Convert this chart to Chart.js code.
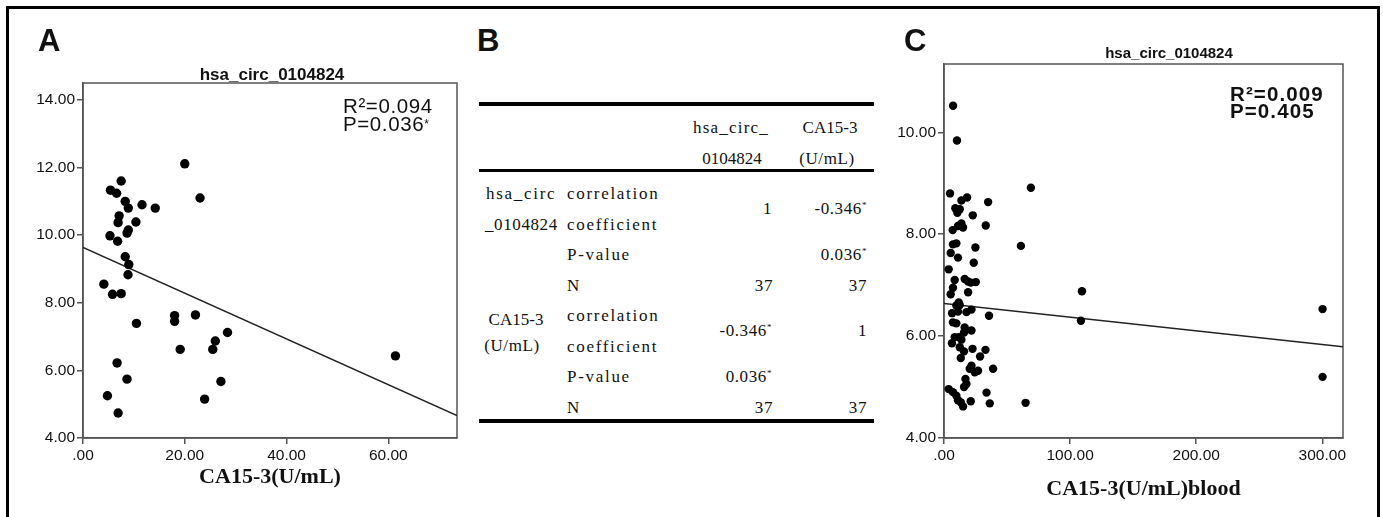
<!DOCTYPE html>
<html>
<head>
<meta charset="utf-8">
<script src="https://cdn.jsdelivr.net/npm/chart.js@4.4.1/dist/chart.umd.min.js"></script>
<style>
html, body { margin: 0; padding: 0; background: #fff; }
body { width: 1383px; height: 517px; position: relative; overflow: hidden; font-family: "Liberation Sans", Arial, sans-serif; }
#frame { position: absolute; left: 6px; top: 6px; width: 1368px; height: 620px; border: 3px solid #000; }
.wrap { position: absolute; top: 0; height: 517px; }
#wrapA { left: 0; width: 475px; }
#wrapC { left: 880px; width: 503px; }
.t { position: absolute; white-space: nowrap; line-height: 1; color: #111; }
.rule { position: absolute; left: 479px; width: 395px; background: #000; }
.star { font-size: 9px; position: relative; top: -0.75em; }
</style>
</head>
<body>
<div id="frame"></div>
<div class="wrap" id="wrapA"><canvas id="chartA"></canvas></div>
<div class="wrap" id="wrapC"><canvas id="chartC"></canvas></div>
<div class="rule" style="top:102px;height:4px"></div>
<div class="rule" style="top:169px;height:3px"></div>
<div class="rule" style="top:419px;height:4px"></div>

<script>
// =========================
// DATA
// =========================

// panel A : CA15-3 (U/mL) vs hsa_circ_0104824
const caA = [
  20.0, 23.0, 7.5, 5.4, 6.6, 8.3, 8.9, 11.6, 14.2, 7.1,
  6.9, 10.4, 8.9, 8.65, 5.3, 6.8, 8.3, 9.0, 8.85, 4.1,
  5.8, 7.5, 10.5, 18.0, 18.0, 22.1, 28.4, 26.0, 25.5, 19.1,
  61.4, 6.7, 8.65, 27.1, 4.8, 23.9, 6.9
];
const circA = [
  12.11, 11.10, 11.60, 11.33, 11.24, 11.00, 10.80, 10.90, 10.80, 10.57,
  10.37, 10.39, 10.15, 10.06, 9.98, 9.82, 9.36, 9.13, 8.83, 8.55,
  8.25, 8.27, 7.39, 7.62, 7.45, 7.64, 7.12, 6.87, 6.62, 6.62,
  6.43, 6.22, 5.74, 5.67, 5.25, 5.15, 4.74
];
const fitAx = [0, 73.5];
const fitAy = [9.64, 4.66];
const xTicksA = [0, 20, 40, 60];
const yTicksA = [4, 6, 8, 10, 12, 14];

// panel C : CA15-3 (U/mL) blood vs hsa_circ_0104824
const caC = [
  7.2, 10.3, 68.9, 4.8, 18.3, 13.8, 35.0, 9.0, 12.5, 10.6,
  22.8, 33.1, 13.8, 11.1, 15.1, 6.9, 7.1, 9.8, 24.9, 61.0,
  5.3, 11.1, 23.6, 3.7, 8.5, 16.4, 19.1, 21.2, 7.1, 5.3,
  19.1, 11.7, 9.8, 12.5, 21.8, 17.8, 6.4, 35.7, 11.1, 7.1,
  9.8, 16.4, 15.9, 21.8, 8.5, 11.9, 13.8, 6.3, 12.5, 22.6,
  32.9, 15.9, 28.6, 13.3, 21.8, 20.4, 24.4, 27.0, 38.9, 17.0,
  17.8, 15.9, 3.7, 7.1, 9.8, 33.7, 11.1, 13.3, 21.2, 36.3,
  15.1, 64.7, 109.4, 108.6, 300.2, 300.2, 25.2
];
const circC = [
  10.52, 9.84, 8.91, 8.80, 8.72, 8.66, 8.63, 8.51, 8.49, 8.42,
  8.37, 8.17, 8.21, 8.16, 8.13, 8.08, 7.80, 7.82, 7.74, 7.77,
  7.63, 7.54, 7.44, 7.31, 7.10, 7.12, 7.07, 7.05, 6.95, 6.82,
  6.86, 6.66, 6.60, 6.61, 6.52, 6.47, 6.45, 6.40, 6.48, 6.27,
  6.25, 6.17, 6.07, 6.11, 5.98, 5.98, 5.93, 5.86, 5.78, 5.75,
  5.73, 5.70, 5.60, 5.57, 5.42, 5.36, 5.29, 5.32, 5.36, 5.16,
  5.06, 5.00, 4.96, 4.90, 4.83, 4.89, 4.74, 4.70, 4.72, 4.68,
  4.62, 4.69, 6.88, 6.30, 6.53, 5.20, 7.06
];
const fitCx = [0, 316.4];
const fitCy = [6.64, 5.79];
const xTicksC = [0, 100, 200, 300];
const yTicksC = [4, 6, 8, 10];

// panel B : correlation table
const tableHeads = [["hsa_circ_", "0104824"], ["CA15-3", "(U/mL)"]];
const tableVars = [["hsa_circ", "_0104824"], ["CA15-3", "(U/mL)"]];
const corrCoef = [["1", "-0.346*"], ["-0.346*", "1"]];
const pValues = [["", "0.036*"], ["0.036*", ""]];
const nValues = [["37", "37"], ["37", "37"]];


// =========================
// TEXT HELPER
// =========================

function put(text, x, base, opt) {

  const size = opt.size;
  const serif = opt.serif;
  const asc = serif ? 0.8375 : 0.8465;

  const d = document.createElement("div");
  d.className = "t";
  d.style.fontFamily = serif
    ? '"Liberation Serif", "Times New Roman", serif'
    : '"Liberation Sans", Arial, sans-serif';
  d.style.fontSize = size + "px";
  d.style.fontWeight = opt.bold ? "bold" : "normal";
  d.style.letterSpacing = (opt.ls || 0) + "px";
  d.style.top = (base - asc * size) + "px";

  d.innerHTML = String(text).replace(
    "*",
    '<span class="star"' + (opt.starStyle ? ' style="' + opt.starStyle + '"' : "") + '>*</span>'
  );

  if(opt.align === "right") {
    d.style.right = (1383 - x) + "px";
  } else if(opt.align === "center") {
    d.style.left = x + "px";
    d.style.transform = "translateX(-50%)";
  } else {
    d.style.left = x + "px";
  }

  document.body.appendChild(d);
}


// =========================
// LABELS
// =========================

put("A", 38, 51, { size: 31, bold: true });
put("B", 477, 51, { size: 31, bold: true });
put("C", 904, 51, { size: 31, bold: true });

put("hsa_circ_0104824", 272, 80, { size: 17, bold: true, align: "center" });
put("hsa_circ_0104824", 1169, 57.5, { size: 15, bold: true, align: "center" });

put("R\u00b2=0.094", 343, 113.5, { size: 20.5, ls: 0.6 });
put("P=0.036*", 343, 131.5, { size: 20.5, ls: 0.6, starStyle: "font-size:12px;top:-0.3em" });

put("R\u00b2=0.009", 1230, 101.5, { size: 20.5, bold: true, ls: 1.1 });
put("P=0.405", 1230, 118.5, { size: 20.5, bold: true, ls: 1.1 });


// =========================
// TABLE
// =========================

const word = { size: 17, serif: true, ls: 1.7 };
const num = { size: 17, serif: true, ls: 0.6, align: "right" };

put(tableHeads[0][0], 731, 133.5, { size: 17, serif: true, ls: 1.2, align: "center" });
put(tableHeads[0][1], 732, 164, { size: 17, serif: true, align: "center" });
put(tableHeads[1][0], 830, 133.5, { size: 17, serif: true, align: "center" });
put(tableHeads[1][1], 827, 164, { size: 17, serif: true, ls: 0.6, align: "center" });

const blockTop = [199.5, 321.7];

tableVars.forEach((v, i) => {

  const b = blockTop[i];

  if(i === 0) {
    put(v[0], 486, b, word);
    put(v[1], 485, b + 30.5, { size: 17, serif: true, ls: 0.6 });
  } else {
    put(v[0], 516, b + 4, { size: 17, serif: true, align: "center" });
    put(v[1], 512, b + 30, { size: 17, serif: true, ls: 0.6, align: "center" });
  }

  put("correlation", 567, b, word);
  put("coefficient", 567, b + 31, word);
  put("P-value", 567, b + 61, word);
  put("N", 567, b + 92, { size: 17, serif: true });

  corrCoef[i].forEach((c, j) => {
    put(c, j === 0 ? 772 : 867, b + 15, num);
  });

  pValues[i].forEach((c, j) => {
    if(c) put(c, j === 0 ? 772 : 867, b + 61, num);
  });

  nValues[i].forEach((c, j) => {
    put(c, j === 0 ? 773 : 867, b + 92, num);
  });

});


// =========================
// COMMON CONFIG
// =========================

const boxPlugin = {
  id: "plotBox",
  beforeDatasetsDraw(chart) {
    const a = chart.chartArea;
    const ctx = chart.ctx;
    ctx.save();
    ctx.strokeStyle = "#555";
    ctx.lineWidth = 1.5;
    ctx.strokeRect(a.left, a.top, a.right - a.left, a.bottom - a.top);
    ctx.restore();
  }
};

function tickLabel(v) {
  return v === 0 ? ".00" : Number(v).toFixed(2);
}

function axis(min, max, ticks, fixed, title) {

  const s = {
    type: "linear",
    min,
    max,
    afterBuildTicks: scale => {
      scale.ticks = ticks.map(v => ({ value: v }));
    },
    grid: {
      drawOnChartArea: false,
      drawTicks: true,
      tickLength: 6,
      color: "#555",
      lineWidth: 1.5
    },
    border: {
      display: true,
      color: "#555",
      width: 1.5
    },
    ticks: {
      callback: tickLabel,
      color: "#111",
      padding: 2,
      font: { family: '"Liberation Sans", Arial, sans-serif', size: 15.5 }
    }
  };

  if(fixed.width) {
    s.afterFit = scale => { scale.width = fixed.width; };
  } else {
    s.afterFit = scale => { scale.height = fixed.height; };
  }

  if(title) {
    s.title = {
      display: true,
      text: title.text,
      color: "#111",
      padding: { top: 0, bottom: title.pad },
      font: { family: '"Liberation Serif", "Times New Roman", serif', size: 22, weight: "bold" }
    };
  }

  return s;
}

function scatterChart(id, xs, ys, fx, fy, radius, opts) {

  const points = xs.map((x, i) => ({ x, y: ys[i] }));
  const fit = fx.map((x, i) => ({ x, y: fy[i] }));

  return new Chart(
    document.getElementById(id),
    {
      type: "scatter",
      data: {
        datasets: [
          {
            data: points,
            pointRadius: radius,
            pointHoverRadius: radius,
            backgroundColor: "#000",
            borderWidth: 0
          },
          {
            type: "line",
            data: fit,
            showLine: true,
            borderColor: "#222",
            borderWidth: 1.5,
            pointRadius: 0,
            fill: false
          }
        ]
      },
      options: {
        responsive: true,
        maintainAspectRatio: false,
        animation: false,
        layout: { padding: opts.padding },
        plugins: {
          legend: { display: false },
          tooltip: { enabled: false }
        },
        scales: {
          x: axis(opts.xMin, opts.xMax, opts.xTicks, { height: 79 }, opts.xTitle),
          y: axis(opts.yMin, opts.yMax, opts.yTicks, { width: opts.yWidth }, null)
        }
      },
      plugins: [boxPlugin]
    }
  );
}


// =========================
// RENDER
// =========================

scatterChart("chartA", caA, circA, fitAx, fitAy, 4.7, {
  padding: { left: 0, top: 83, right: 18, bottom: 0 },
  yWidth: 83,
  xMin: 0, xMax: 73.5, xTicks: xTicksA,
  yMin: 4, yMax: 14.5, yTicks: yTicksA,
  xTitle: { text: "CA15-3(U/mL)", pad: 26 }
});

scatterChart("chartC", caC, circC, fitCx, fitCy, 4.2, {
  padding: { left: 0, top: 64, right: 40, bottom: 0 },
  yWidth: 64,
  xMin: 0, xMax: 316.4, xTicks: xTicksC,
  yMin: 4, yMax: 11.34, yTicks: yTicksC,
  xTitle: { text: "CA15-3(U/mL)blood", pad: 14 }
});
</script>
</body>
</html>
